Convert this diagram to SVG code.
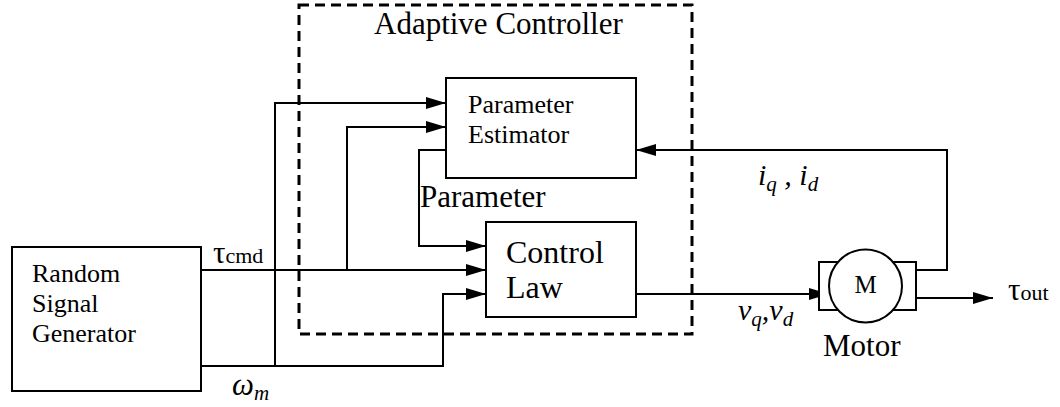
<svg xmlns="http://www.w3.org/2000/svg" width="1060" height="407" viewBox="0 0 1060 407">
<defs>
<marker id="ah" markerUnits="userSpaceOnUse" markerWidth="20" markerHeight="12" refX="20" refY="6" orient="auto">
<path d="M0,0 L20,6 L0,12 z" fill="#000"/>
</marker>
</defs>
<rect width="1060" height="407" fill="#fff"/>
<g id="adaptive-controller">
<rect x="299" y="5" width="393" height="329" fill="none" stroke="#000" stroke-width="3" stroke-dasharray="10,6"/>
<text x="374" y="34" font-size="31" font-family="Liberation Serif">Adaptive Controller</text>
</g>
<g id="connectors" fill="none" stroke="#000" stroke-width="2">
<path d="M275,366 V103 H446" marker-end="url(#ah)"/>
<path d="M347,270 V127 H446" marker-end="url(#ah)"/>
<path d="M446,150 H419 V246 H486" marker-end="url(#ah)"/>
<path d="M201,270 H486" marker-end="url(#ah)"/>
<path d="M201,366 H443 V294 H486" marker-end="url(#ah)"/>
<path d="M636,294 H829" marker-end="url(#ah)"/>
<path d="M916,270 H947 V150 H636" marker-end="url(#ah)"/>
<path d="M916,298 H993" marker-end="url(#ah)"/>
</g>
<g id="labels" fill="#000">
<text x="213" y="263" font-size="31" font-family="Liberation Serif">τ<tspan font-size="22">cmd</tspan></text>
<text x="232" y="395" font-size="31" font-style="italic" font-family="Liberation Serif">ω<tspan font-size="21" dy="5">m</tspan></text>
<text x="420" y="207" font-size="31" font-family="Liberation Serif">Parameter</text>
<text x="758" y="185" font-size="30" font-style="italic" font-family="Liberation Serif">i<tspan font-size="21" dy="6">q</tspan><tspan dy="-6"> , i</tspan><tspan font-size="21" dy="6">d</tspan></text>
<text x="738" y="320" font-size="30" font-style="italic" font-family="Liberation Serif">v<tspan font-size="21" dy="6">q</tspan><tspan dy="-6">,v</tspan><tspan font-size="21" dy="6">d</tspan></text>
<text x="1008" y="300" font-size="31" font-family="Liberation Serif">τ<tspan font-size="22">out</tspan></text>
</g>
<g id="random-signal-generator">
<rect x="12" y="247" width="189" height="144" fill="#fff" stroke="#000" stroke-width="2"/>
<text x="32" y="282" font-size="26" font-family="Liberation Serif">Random</text>
<text x="32" y="312" font-size="26" font-family="Liberation Serif">Signal</text>
<text x="32" y="342" font-size="26" font-family="Liberation Serif">Generator</text>
</g>
<g id="parameter-estimator">
<rect x="446" y="78" width="190" height="100" fill="#fff" stroke="#000" stroke-width="2"/>
<text x="468" y="113" font-size="26" font-family="Liberation Serif">Parameter</text>
<text x="468" y="143" font-size="26" font-family="Liberation Serif">Estimator</text>
</g>
<g id="control-law">
<rect x="486" y="222" width="150" height="95" fill="#fff" stroke="#000" stroke-width="2"/>
<text x="506" y="263" font-size="32" font-family="Liberation Serif">Control</text>
<text x="506" y="298" font-size="32" font-family="Liberation Serif">Law</text>
</g>
<g id="motor">
<rect x="819" y="262" width="97" height="48" fill="#fff" stroke="#000" stroke-width="2"/>
<circle cx="865.5" cy="286" r="36.5" fill="#fff" stroke="#000" stroke-width="2"/>
<text x="865.5" y="293" font-size="25" text-anchor="middle" font-family="Liberation Serif">M</text>
<text x="823" y="356" font-size="31" font-family="Liberation Serif">Motor</text>
</g>
</svg>
